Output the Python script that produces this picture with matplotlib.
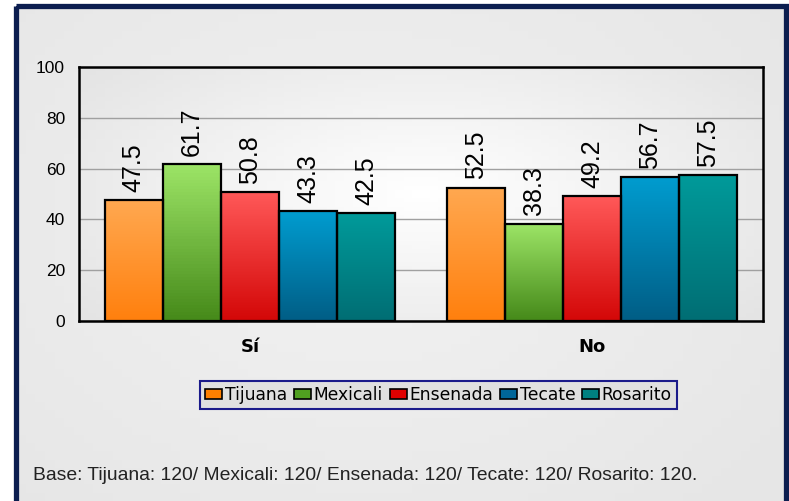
import numpy as np
import matplotlib
matplotlib.use('Agg')
import matplotlib.pyplot as plt
from matplotlib.colors import LinearSegmentedColormap
from matplotlib.patches import Rectangle, Patch

# data
categories = ['Sí', 'No']
cities = ['Tijuana', 'Mexicali', 'Ensenada', 'Tecate', 'Rosarito']
values = {
    'Tijuana':  [47.5, 52.5],
    'Mexicali': [61.7, 38.3],
    'Ensenada': [50.8, 49.2],
    'Tecate':   [43.3, 56.7],
    'Rosarito': [42.5, 57.5],
}
footer = 'Base: Tijuana: 120/ Mexicali: 120/ Ensenada: 120/ Tecate: 120/ Rosarito: 120.'

# gradient (top, bottom) and legend colour per city
grad = {
    'Tijuana':  ('#ffa850', '#ff800e'),
    'Mexicali': ('#9ce466', '#468a1a'),
    'Ensenada': ('#ff5858', '#d40808'),
    'Tecate':   ('#009ccf', '#005e86'),
    'Rosarito': ('#009a9a', '#006e74'),
}
solid = {
    'Tijuana': '#ff8000', 'Mexicali': '#50a020', 'Ensenada': '#e00000',
    'Tecate': '#006699', 'Rosarito': '#008080',
}

W, H = 789, 501
fig = plt.figure(figsize=(W / 100, H / 100), dpi=100, facecolor='white')

# background with navy frame, in pixel coordinates
bg = fig.add_axes([0, 0, 1, 1], zorder=-5)
bg.set_xlim(0, W)
bg.set_ylim(H, 0)
bg.axis('off')
yy, xx = np.mgrid[0:1:60j, 0:1:80j]
r = np.sqrt(((xx - 0.45) / 0.7) ** 2 + ((yy - 0.45) / 0.8) ** 2)
bgcm = LinearSegmentedColormap.from_list('bg', ['#f2f2f2', '#e6e6e6'])
bg.imshow(np.clip(r, 0, 1), cmap=bgcm, extent=(16, 789, 501, 6), aspect='auto', zorder=0)
bg.add_patch(Rectangle((16.5, 6), 770, 520, fill=False, edgecolor='#0c1e50', lw=3.8, zorder=2))

# main plot area
ax = fig.add_axes([79 / W, (H - 321) / H, (763 - 79) / W, (321 - 67) / H])
ax.set_facecolor('none')
yy, xx = np.mgrid[0:1:60j, 0:1:80j]
r = np.sqrt(((xx - 0.5) / 0.75) ** 2 + ((yy - 0.5) / 0.9) ** 2)
pcm = LinearSegmentedColormap.from_list('pa', ['#ffffff', '#e4e4e4'])
ax.imshow(np.clip(r, 0, 1), cmap=pcm, extent=(0, 1, 0, 1), transform=ax.transAxes,
          aspect='auto', zorder=0)

x = np.arange(len(categories))
n = len(cities)
bw = 0.17
for i, c in enumerate(cities):
    pos = x + (i - (n - 1) / 2) * bw
    bars = ax.bar(pos, values[c], bw, facecolor='none', edgecolor='black',
                  linewidth=1.6, zorder=4)
    cm = LinearSegmentedColormap.from_list(c, [grad[c][1], grad[c][0]])
    for b, v in zip(bars, values[c]):
        x0, w, h = b.get_x(), b.get_width(), b.get_height()
        ax.imshow(np.linspace(0, 1, 50)[::-1, None], cmap=cm,
                  extent=(x0, x0 + w, 0, h), aspect='auto', zorder=3)
        ax.annotate(f'{v:.1f}', (x0 + w / 2, h), xytext=(0, 6), textcoords='offset points',
                    rotation=90, ha='center', va='bottom', fontsize=18,
                    family='Liberation Sans', zorder=5)

ax.set_xlim(-0.5, 1.5)
ax.set_ylim(0, 100)
ax.set_yticks([0, 20, 40, 60, 80, 100])
ax.set_xticks(x)
ax.set_xticklabels(categories, fontsize=13, fontweight='bold', family='DejaVu Sans')
ax.tick_params(axis='x', length=0, pad=12)
ax.tick_params(axis='y', length=0, pad=10, labelsize=12.5)
for t in ax.get_yticklabels():
    t.set_family('Liberation Sans')
ax.yaxis.grid(True, color='#a0a0a0', lw=1, zorder=1)
ax.set_axisbelow(True)
for s in ax.spines.values():
    s.set_linewidth(1.8)
    s.set_color('black')
    s.set_zorder(6)

handles = [Patch(facecolor=solid[c], edgecolor='black', lw=1.2) for c in cities]
leg = fig.legend(handles, cities, loc='center', bbox_to_anchor=(438.5 / W, (H - 395) / H),
                 ncol=5, fontsize=12.3, handlelength=1.0, handleheight=0.6,
                 handletextpad=0.15, columnspacing=0.4, borderpad=0.3,
                 fancybox=False, framealpha=1, facecolor='#e0e0e0', edgecolor='#1a1a8a')
leg.get_frame().set_linewidth(1.5)

fig.text(33 / W, (H - 476) / H, footer, fontsize=13.9, family='Liberation Sans',
         va='center', ha='left', color='#222222')

fig.savefig('out.png', dpi=100, facecolor=fig.get_facecolor())
